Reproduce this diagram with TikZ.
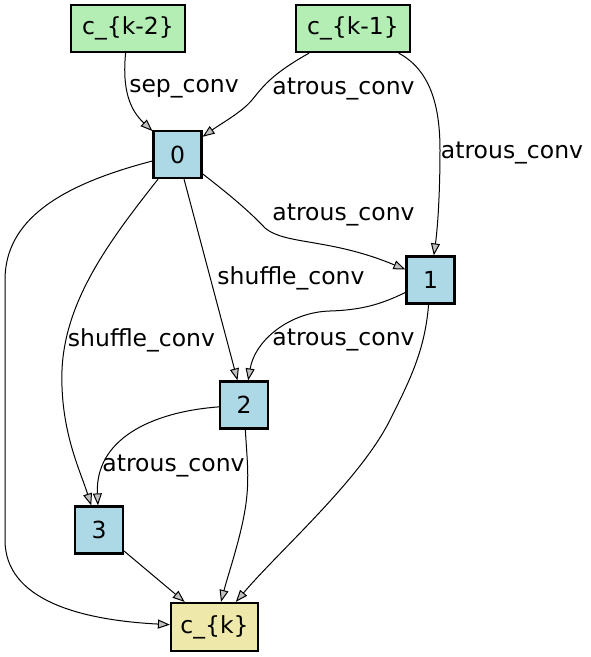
\documentclass[tikz,border=0pt]{standalone}
\usepackage{fontspec}
\setmainfont{DejaVu Sans}
\usetikzlibrary{arrows.meta}
\definecolor{cgreen}{HTML}{B4EEB4}
\definecolor{cblue}{HTML}{ADD8E6}
\definecolor{cyellow}{HTML}{EEE8AA}
\definecolor{tipgray}{HTML}{C0C0C0}
\tikzset{
  box/.style={draw=black, line width=2.2pt, inner sep=0pt, font=\fontsize{23.5}{28}\selectfont},
  inbox/.style={box, fill=cgreen, minimum width=114pt, minimum height=47pt},
  opbox/.style={box, fill=cblue, minimum width=48pt, minimum height=47pt},
  outbox/.style={box, fill=cyellow, minimum width=87pt, minimum height=48pt},
  edge/.style={draw=black, line width=1pt, -{Triangle[length=12pt,width=9pt,fill=tipgray]}},
  lbl/.style={inner sep=0pt, font=\fontsize{23.5}{28}\selectfont}
}
\begin{document}
\begin{tikzpicture}[x=1pt,y=-1pt]
\useasboundingbox (0,0) rectangle (591,657);
\node[inbox] (k2) at (128,28.5) {c\_\{k-2\}};
\node[inbox] (k1) at (353,28.5) {c\_\{k-1\}};
\node[opbox] (n0) at (177.5,154.5) {0};
\node[opbox] (n1) at (430.5,280) {1};
\node[opbox] (n2) at (244,405) {2};
\node[opbox] (n3) at (99,530) {3};
\node[outbox] (ck) at (214.5,627) {c\_\{k\}};

% c_{k-2} -> 0
\draw[edge] (k2) .. controls (122,90) and (130,110) .. (n0);
\node[lbl] (l1) at (184,89) {sep\_conv};
% c_{k-1} -> 0
\draw[edge] (k1) .. controls (270,75) and (262,88) .. (252,100) .. controls (242,112) and (222,123) .. (n0);
\node[lbl] (l2) at (343.5,89) {atrous\_conv};
% c_{k-1} -> 1
\draw[edge] (k1) .. controls (430,70) and (440,105) .. (440,150) .. controls (440,190) and (438,225) .. (n1);
\node[lbl] (l3) at (512,153) {atrous\_conv};
% 0 -> 1
\draw[edge] (n0) .. controls (230,195) and (250,212) .. (265,228) .. controls (285,245) and (330,238) .. (n1);
\node[lbl] (l4) at (343.5,215) {atrous\_conv};
% 0 -> 2
\draw[edge] (n0) -- (n2);
\node[lbl] (l5) at (291,278) {shuffle\_conv};
% 1 -> 2
\draw[edge] (n1) .. controls (380,305) and (360,310) .. (330,311) .. controls (290,312) and (255,340) .. (n2);
\node[lbl] (l6) at (343.5,340) {atrous\_conv};
% 0 -> 3
\draw[edge] (n0) .. controls (110,240) and (65,300) .. (62,370) .. controls (60,430) and (80,470) .. (n3);
\node[lbl] (l7) at (141.5,340) {shuffle\_conv};
% 2 -> 3
\draw[edge] (n2) .. controls (150,412) and (95,440) .. (n3);
\node[lbl] (l8) at (173.5,466) {atrous\_conv};
% 2 -> c_k
\draw[edge] (n2) .. controls (247,460) and (250,480) .. (245,510) .. controls (240,540) and (228,575) .. (ck);
% 1 -> c_k
\draw[edge] (n1) .. controls (425,350) and (410,380) .. (390,420) .. controls (360,480) and (280,550) .. (ck);
% 3 -> c_k
\draw[edge] (n3) -- (ck);
% 0 -> c_k
\draw[edge] (n0) .. controls (60,185) and (5,220) .. (5,280) -- (5,540) .. controls (5,600) and (80,620) .. (ck);
\end{tikzpicture}
\end{document}
